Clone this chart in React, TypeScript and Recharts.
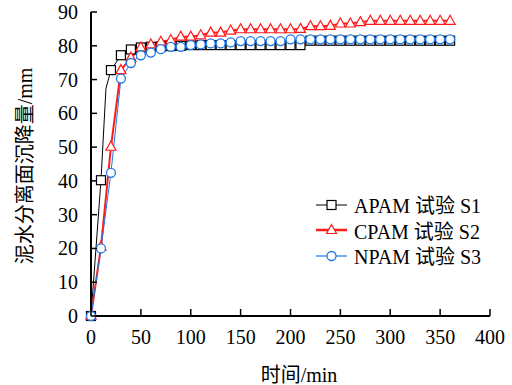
import React from 'react';
import { LineChart, Line, XAxis, YAxis, Legend, Label } from 'recharts';

const xTicks = [0, 50, 100, 150, 200, 250, 300, 350, 400];
const yTicks = [0, 10, 20, 30, 40, 50, 60, 70, 80, 90];

// sampling times (min)
const times = [0, 10, 20, 30, 40, 50, 60, 70, 80, 90, 100, 110, 120, 130, 140, 150, 160, 170, 180, 190, 200, 210, 220, 230, 240, 250, 260, 270, 280, 290, 300, 310, 320, 330, 340, 350, 360];
// APAM has one extra reading at 15 min (drawn without marker)
const apamTimes = [0, 10, 15, 20, 30, 40, 50, 60, 70, 80, 90, 100, 110, 120, 130, 140, 150, 160, 170, 180, 190, 200, 210, 220, 230, 240, 250, 260, 270, 280, 290, 300, 310, 320, 330, 340, 350, 360];

const apam = [0, 40.2, 67.4, 72.8, 77.2, 78.9, 79.5, 79.7, 79.8, 79.9, 80.0, 80.2, 80.2, 80.2, 80.2, 80.2, 80.2, 80.2, 80.2, 80.2, 80.2, 80.2, 80.2, 81.5, 81.5, 81.5, 81.5, 81.5, 81.5, 81.5, 81.5, 81.5, 81.5, 81.5, 81.5, 81.5, 81.5, 81.5];
const cpam = [0, 20.5, 50.1, 72.8, 76.5, 79.5, 80.4, 81.2, 81.7, 82.7, 82.7, 83.1, 83.9, 83.9, 84.5, 84.9, 84.9, 84.9, 84.9, 84.9, 84.9, 85.0, 85.8, 85.8, 85.9, 86.6, 86.6, 87.0, 87.4, 87.4, 87.4, 87.4, 87.4, 87.4, 87.4, 87.4, 87.4];
const npam = [0, 20.0, 42.4, 70.3, 74.9, 77.2, 78.0, 79.0, 79.7, 79.7, 80.2, 80.4, 80.7, 80.7, 81.0, 81.4, 81.4, 81.4, 81.4, 81.4, 81.9, 81.9, 81.9, 81.9, 81.9, 81.9, 81.9, 81.9, 81.9, 81.9, 81.9, 81.9, 81.9, 81.9, 81.9, 81.9, 81.9];

const apamData = apamTimes.map((t, i) => ({ t, v: apam[i] }));
const cpamData = times.map((t, i) => ({ t, v: cpam[i] }));
const npamData = times.map((t, i) => ({ t, v: npam[i] }));

const FONT = '"Liberation Serif", "Noto Sans CJK SC", serif';
const BLUE = '#1f78e6';
const RED = '#ff1a1a';
const FS = 20;

const XTick = ({ x, y, payload }: any) => (
  <g>
    <line x1={x} y1={y} x2={x} y2={y - 7} stroke="#000" strokeWidth={1.5} />
    <text x={x} y={y + 21} textAnchor="middle" dominantBaseline="central" fontFamily={FONT} fontSize={FS} fill="#000">{payload.value}</text>
  </g>
);

const YTick = ({ x, y, payload }: any) => (
  <g>
    <line x1={x} y1={y} x2={x + 6} y2={y} stroke="#000" strokeWidth={1.5} />
    <text x={x - 13} y={y} textAnchor="end" dominantBaseline="central" fontFamily={FONT} fontSize={FS} fill="#000">{payload.value}</text>
  </g>
);

const squareDot = (p: any) => {
  if (p.payload.t === 15) return <g key={`s-${p.index}`} />;
  return <rect key={`s-${p.index}`} x={p.cx - 4.5} y={p.cy - 4.5} width={9} height={9} fill="#fff" stroke="#000" strokeWidth={1.2} />;
};
const triDot = (p: any) => (
  <polygon key={`t-${p.index}`} points={`${p.cx},${p.cy - 5.5} ${p.cx + 5},${p.cy + 3.5} ${p.cx - 5},${p.cy + 3.5}`} fill="#fff" stroke={RED} strokeWidth={1.2} />
);
const circDot = (p: any) => (
  <circle key={`c-${p.index}`} cx={p.cx} cy={p.cy} r={4.5} fill="#fff" stroke={BLUE} strokeWidth={1.3} />
);

const legendItems = [
  { name: 'APAM 试验 S1', color: '#000', width: 1, marker: 'square' },
  { name: 'CPAM 试验 S2', color: RED, width: 2.5, marker: 'tri' },
  { name: 'NPAM 试验 S3', color: BLUE, width: 1.2, marker: 'circle' },
];

const LegendContent = () => (
  <div style={{ fontFamily: FONT, fontSize: FS, color: '#000' }}>
    {legendItems.map((it) => (
      <div key={it.name} style={{ display: 'flex', alignItems: 'center', height: 25.5 }}>
        <svg width={34} height={20}>
          <line x1={1} y1={10} x2={32} y2={10} stroke={it.color} strokeWidth={it.width} />
          {it.marker === 'square' && <rect x={12} y={5.5} width={9} height={9} fill="#fff" stroke="#000" strokeWidth={1.2} />}
          {it.marker === 'tri' && <polygon points="16.5,4.5 21.5,13.5 11.5,13.5" fill="#fff" stroke={RED} strokeWidth={1.2} />}
          {it.marker === 'circle' && <circle cx={16.5} cy={10} r={4.5} fill="#fff" stroke={BLUE} strokeWidth={1.3} />}
        </svg>
        <span style={{ marginLeft: 5, whiteSpace: 'nowrap' }}>{it.name}</span>
      </div>
    ))}
  </div>
);

export default function App() {
  return (
    <div style={{ position: 'absolute', left: 0, top: 0, background: '#fff' }}>
      <LineChart width={512} height={385} margin={{ top: 12, right: 22, bottom: 0, left: 0 }}>
        <XAxis
          type="number"
          dataKey="t"
          domain={[0, 400]}
          ticks={xTicks}
          interval={0}
          height={69}
          tickSize={0}
          tickMargin={0}
          tickLine={false}
          axisLine={{ stroke: '#000', strokeWidth: 2 }}
          tick={<XTick />}
        >
          <Label content={() => (
            <text x={299} y={375} textAnchor="middle" dominantBaseline="central" fontFamily={FONT} fontSize={FS} fill="#000">时间/min</text>
          )} />
        </XAxis>
        <YAxis
          type="number"
          domain={[0, 90]}
          ticks={yTicks}
          interval={0}
          width={91}
          tickSize={0}
          tickMargin={0}
          tickLine={false}
          axisLine={{ stroke: '#000', strokeWidth: 2 }}
          tick={<YTick />}
        >
          <Label content={() => (
            <text x={25} y={166} transform="rotate(-90 25 166)" textAnchor="middle" dominantBaseline="central" fontFamily={FONT} fontSize={FS} fill="#000">泥水分离面沉降量/mm</text>
          )} />
        </YAxis>
        <Legend
          layout="horizontal"
          verticalAlign="middle"
          align="center"
          content={<LegendContent />}
          wrapperStyle={{ position: 'absolute', left: 315, top: 192, width: 190 }}
        />
        <Line data={apamData} dataKey="v" type="linear" stroke="#000" strokeWidth={1} dot={squareDot} activeDot={false} isAnimationActive={false} />
        <Line data={cpamData} dataKey="v" type="linear" stroke={RED} strokeWidth={2} dot={triDot} activeDot={false} isAnimationActive={false} />
        <Line data={npamData} dataKey="v" type="linear" stroke={BLUE} strokeWidth={1} dot={circDot} activeDot={false} isAnimationActive={false} />
      </LineChart>
    </div>
  );
}
